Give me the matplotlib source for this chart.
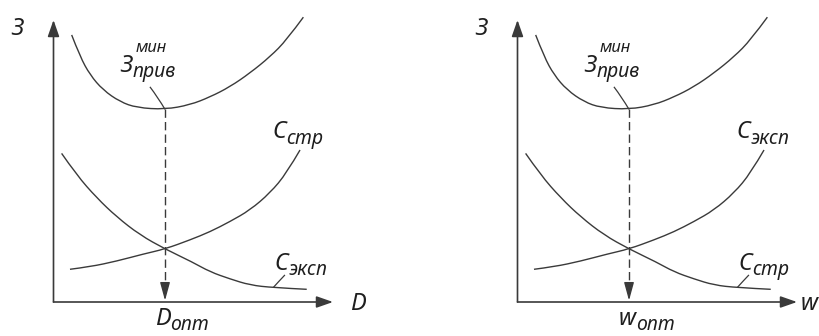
import matplotlib
matplotlib.use('Agg')
import matplotlib.pyplot as plt
from matplotlib.path import Path
from matplotlib.patches import PathPatch

plt.rcParams['font.family'] = 'Noto Sans'
plt.rcParams['lines.scale_dashes'] = False

# total reduced costs (U-shaped curve), axis units 0..10
x_total = [0.65, 0.95, 1.31, 1.77, 2.38, 2.98, 3.99, 4.88, 5.60, 6.31, 7.03, 7.75, 8.34, 8.94]
y_total = [9.47, 8.70, 8.05, 7.52, 7.10, 6.89, 6.83, 6.99, 7.27, 7.63, 8.12, 8.70, 9.29, 10.10]

# rising cost component
x_rise = [0.59, 1.31, 2.26, 3.21, 3.99, 4.88, 5.60, 6.31, 7.03, 7.75, 8.34, 8.82]
y_rise = [1.16, 1.25, 1.45, 1.70, 1.88, 2.20, 2.49, 2.85, 3.26, 3.87, 4.57, 5.39]

# falling cost component
x_fall = [0.29, 0.83, 1.55, 2.26, 3.09, 3.99, 4.96, 5.60, 6.31, 7.03, 7.86, 9.06]
y_fall = [5.27, 4.50, 3.69, 3.02, 2.38, 1.88, 1.42, 1.07, 0.82, 0.60, 0.51, 0.45]

# optimum point
x_opt = 3.99
y_min = 6.83

# leader lines for the labels
x_lead_min = [3.45, 3.74, 3.99]
y_lead_min = [7.63, 7.25, 6.83]
x_lead_low = [8.28, 8.05, 7.86]
y_lead_low = [0.96, 0.72, 0.51]

line_c = '#3a3a3a'
text_c = '#1e1e1e'
fs = 17
fs_small = 14

fig = plt.figure(figsize=(8.2, 3.36), dpi=100)


def smooth_path(xs, ys):
    # quadratic b-spline through the points (midpoints are on the curve)
    verts = [(xs[0], ys[0])]
    codes = [Path.MOVETO]
    n = len(xs)
    for i in range(1, n - 1):
        verts.append((xs[i], ys[i]))
        if i < n - 2:
            verts.append(((xs[i] + xs[i + 1]) / 2, (ys[i] + ys[i + 1]) / 2))
        else:
            verts.append((xs[i + 1], ys[i + 1]))
        codes += [Path.CURVE3, Path.CURVE3]
    return Path(verts, codes)


def label(ax, x, y, main, sub=None, sup=None):
    t = ax.text(x, y, main, fontsize=fs, style='italic', color=text_c,
                va='baseline', ha='left', clip_on=False)
    if sub:
        ax.annotate(sub, xy=(1, 0), xycoords=t, xytext=(0, 0.5), textcoords='offset points',
                    fontsize=fs_small, style='italic', color=text_c, va='baseline', ha='left')
    if sup:
        ax.annotate(sup, xy=(1, 1), xycoords=t, xytext=(2, 1), textcoords='offset points',
                    fontsize=fs_small * 0.85, style='italic', color=text_c, va='baseline', ha='left')
    return t


def draw_panel(left, x_name, rise_name, fall_name, x_name_pos):
    ax = fig.add_axes([left, 34 / 336, 279.5 / 820, 282 / 336])
    ax.set_xlim(0, 10)
    ax.set_ylim(0, 10)
    ax.axis('off')

    # axes with arrows
    arrow = dict(arrowstyle='-|>,head_length=1.0,head_width=0.35', color=line_c,
                 lw=1.2, shrinkA=0, shrinkB=0)
    ax.annotate('', xy=(10, 0), xytext=(0, 0), arrowprops=arrow, annotation_clip=False)
    ax.annotate('', xy=(0, 10), xytext=(0, 0), arrowprops=arrow, annotation_clip=False)

    # curves
    for xs, ys in [(x_total, y_total), (x_rise, y_rise), (x_fall, y_fall)]:
        ax.add_patch(PathPatch(smooth_path(xs, ys), fill=False, edgecolor=line_c,
                               lw=1.0, clip_on=False))

    # dashed drop from the minimum to the x axis
    ax.plot([x_opt, x_opt], [y_min, 0.55], color=line_c, lw=1.0, ls=(0, (6, 3)))
    ax.annotate('', xy=(x_opt, 0.05), xytext=(x_opt, 0.6),
                arrowprops=dict(arrowstyle='-|>,head_length=1.1,head_width=0.3',
                                color=line_c, lw=1.0, shrinkA=0, shrinkB=0))

    # leaders
    ax.add_patch(PathPatch(smooth_path(x_lead_min, y_lead_min), fill=False,
                           edgecolor=line_c, lw=0.9))
    ax.add_patch(PathPatch(smooth_path(x_lead_low, y_lead_low), fill=False,
                           edgecolor=line_c, lw=0.9))

    # labels
    label(ax, -1.5, 9.47, 'З')
    label(ax, x_name_pos, -0.3, x_name)
    label(ax, 3.62, -0.82, x_name, sub='опт')
    label(ax, 2.38, 8.16, 'З', sub='прив', sup='мин')
    label(ax, 7.85, 5.8, 'С', sub=rise_name)
    label(ax, 7.9, 1.15, 'С', sub=fall_name)
    return ax


draw_panel(53.5 / 820, 'D', 'стр', 'эксп', 10.61)
draw_panel(517.5 / 820, 'w', 'эксп', 'стр', 10.12)

fig.savefig('out.png', dpi=100)
